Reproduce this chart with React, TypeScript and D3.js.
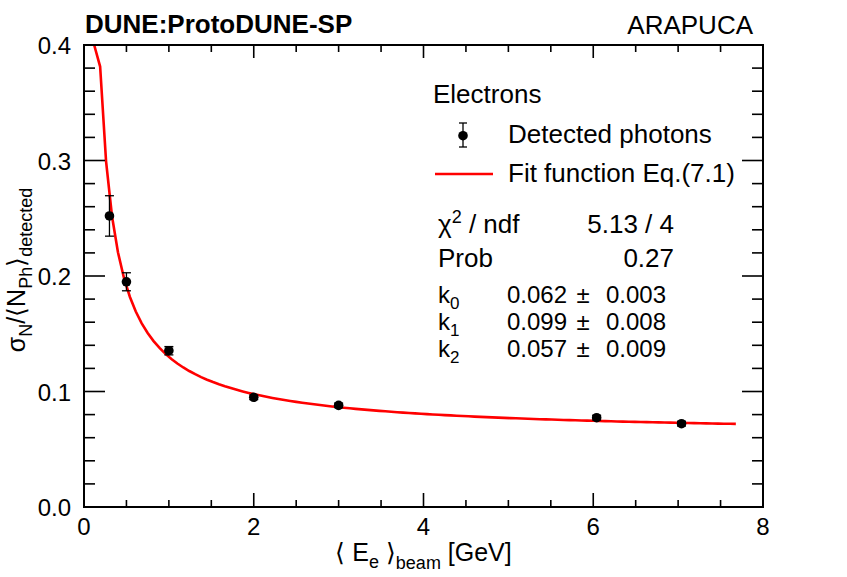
import React from "react";
import * as d3 from "d3";

// beam energy points and measured resolution
const energies = [0.3, 0.5, 1.0, 2.0, 3.0, 6.04, 7.04];
const resolution = [0.252, 0.195, 0.1353, 0.095, 0.088, 0.0773, 0.0721];
const resolutionErr = [0.0175, 0.0078, 0.0036, 0.002, 0.002, 0.002, 0.002];

// fit result (Eq. 7.1)
const fitNames = ["0", "1", "2"];
const fitValues = [0.062, 0.099, 0.057];
const fitErrors = [0.003, 0.008, 0.009];
const chi2Label = "5.13 / 4";
const probLabel = "0.27";

const xTicks = [0, 2, 4, 6, 8];
const yTicks = [0, 0.1, 0.2, 0.3, 0.4];

const W = 847;
const H = 577;
const left = 84, right = 763, top = 45, bottom = 507;
const font = "'Liberation Sans', Arial, Helvetica, sans-serif";

const fitFn = (e: number) => {
  const [k0, k1, k2] = fitValues;
  return Math.sqrt(k0 * k0 + (k1 * k1) / e + (k2 * k2) / (e * e));
};

export default function App() {
  const x = d3.scaleLinear().domain([0, 8]).range([left, right]);
  const y = d3.scaleLinear().domain([0, 0.4]).range([bottom, top]);

  // sampled like ROOT's TF1 drawing, clipped at the frame maximum
  const samples = d3.range(0.05, 7.7, 0.07).map((e) => [e, Math.min(0.4, fitFn(e))] as [number, number]);
  const firstFree = samples.findIndex((s) => s[1] < 0.4);
  const curvePts = samples.slice(Math.max(0, firstFree - 1));
  const line = d3.line<[number, number]>().x((d) => x(d[0])).y((d) => y(d[1]));

  const xMinor = d3.range(0, 8.01, 0.5);
  const yMinor = d3.range(0, 0.401, 0.02);
  const f3 = d3.format(".3f");

  return (
    <svg width={W} height={H} style={{ position: "absolute", left: 0, top: 0, background: "#fff" }} fontFamily={font}>
      <rect x={0} y={0} width={W} height={H} fill="#fff" />

      {/* fit curve */}
      <path d={line(curvePts) ?? ""} fill="none" stroke="#ff0000" strokeWidth={2.6} />

      {/* data points */}
      {energies.map((e, i) => {
        const cx = x(e);
        const yt = y(resolution[i] + resolutionErr[i]);
        const yb = y(resolution[i] - resolutionErr[i]);
        return (
          <g key={i} stroke="#000" strokeWidth={1.3}>
            <line x1={cx} x2={cx} y1={yt} y2={yb} />
            <line x1={cx - 4.5} x2={cx + 4.5} y1={yt} y2={yt} />
            <line x1={cx - 4.5} x2={cx + 4.5} y1={yb} y2={yb} />
            <circle cx={cx} cy={y(resolution[i])} r={4.8} fill="#000" stroke="none" />
          </g>
        );
      })}

      {/* frame and ticks */}
      <g stroke="#000" strokeWidth={1.6}>
        {xMinor.map((v, i) => {
          const major = xTicks.includes(v);
          return (
            <g key={"x" + i}>
              <line x1={x(v)} x2={x(v)} y1={bottom} y2={bottom - (major ? 14 : 7)} />
              <line x1={x(v)} x2={x(v)} y1={top} y2={top + (major ? 13 : 7)} />
            </g>
          );
        })}
        {yMinor.map((v, i) => {
          const major = i % 5 === 0;
          return (
            <g key={"y" + i}>
              <line x1={left} x2={left + (major ? 21 : 11)} y1={y(v)} y2={y(v)} />
              <line x1={right} x2={right - (major ? 21 : 11)} y1={y(v)} y2={y(v)} />
            </g>
          );
        })}
        <rect x={left} y={top} width={right - left} height={bottom - top} fill="none" strokeWidth={2} />
      </g>

      {/* tick labels */}
      <g fontSize={24} fill="#000">
        {xTicks.map((v) => (
          <text key={v} x={x(v)} y={535} textAnchor="middle">{d3.format("d")(v)}</text>
        ))}
        {yTicks.map((v) => (
          <text key={v} x={71} y={y(v) + 9} textAnchor="end">{d3.format(".1f")(v)}</text>
        ))}
      </g>

      {/* axis titles */}
      <text x={(left + right) / 2} y={561} textAnchor="middle" fontSize={25}>
        <tspan>{"\u27e8 E"}</tspan>
        <tspan fontSize={18} dy={7}>e</tspan>
        <tspan dy={-7}>{" \u27e9"}</tspan>
        <tspan fontSize={18} dy={8}>beam</tspan>
        <tspan dy={-8}>{" [GeV]"}</tspan>
      </text>
      <text transform="translate(25,270) rotate(-90)" textAnchor="middle" fontSize={25}>
        <tspan>{"\u03c3"}</tspan>
        <tspan fontSize={18} dy={7}>N</tspan>
        <tspan dy={-7}>{"/\u27e8N"}</tspan>
        <tspan fontSize={18} dy={7}>Ph</tspan>
        <tspan dy={-7}>{"\u27e9"}</tspan>
        <tspan fontSize={18} dy={7}>detected</tspan>
      </text>

      {/* header */}
      <text x={85} y={33} fontSize={26} fontWeight="bold">DUNE:ProtoDUNE-SP</text>
      <text x={753} y={34} fontSize={26} textAnchor="end">ARAPUCA</text>

      {/* legend */}
      <g fontSize={26}>
        <text x={433} y={103}>Electrons</text>
        <g stroke="#000" strokeWidth={1.3}>
          <line x1={463} x2={463} y1={123} y2={147} />
          <line x1={459} x2={467} y1={123} y2={123} />
          <line x1={459} x2={467} y1={147} y2={147} />
          <circle cx={463} cy={135.7} r={4.8} fill="#000" stroke="none" />
        </g>
        <text x={508} y={143}>Detected photons</text>
        <line x1={435} x2={493} y1={174} y2={174} stroke="#ff0000" strokeWidth={2.6} />
        <text x={508} y={182}>Fit function Eq.(7.1)</text>
      </g>

      {/* fit statistics */}
      <g fontSize={26}>
        <text x={438} y={233}>
          <tspan>{"\u03c7"}</tspan>
          <tspan fontSize={18} dy={-10}>2</tspan>
          <tspan dy={10}>{" / ndf"}</tspan>
        </text>
        <text x={674} y={233} textAnchor="end">{chi2Label}</text>
        <text x={438} y={267}>Prob</text>
        <text x={674} y={267} textAnchor="end">{probLabel}</text>
      </g>
      <g fontSize={24}>
        {fitNames.map((n, i) => {
          const by = 303 + i * 27;
          return (
            <g key={n}>
              <text x={438} y={by}>
                <tspan>k</tspan>
                <tspan fontSize={17} dy={6}>{n}</tspan>
              </text>
              <text x={507} y={by}>{f3(fitValues[i])}</text>
              <text x={583} y={by} textAnchor="middle">{"\u00b1"}</text>
              <text x={606} y={by}>{f3(fitErrors[i])}</text>
            </g>
          );
        })}
      </g>
    </svg>
  );
}
